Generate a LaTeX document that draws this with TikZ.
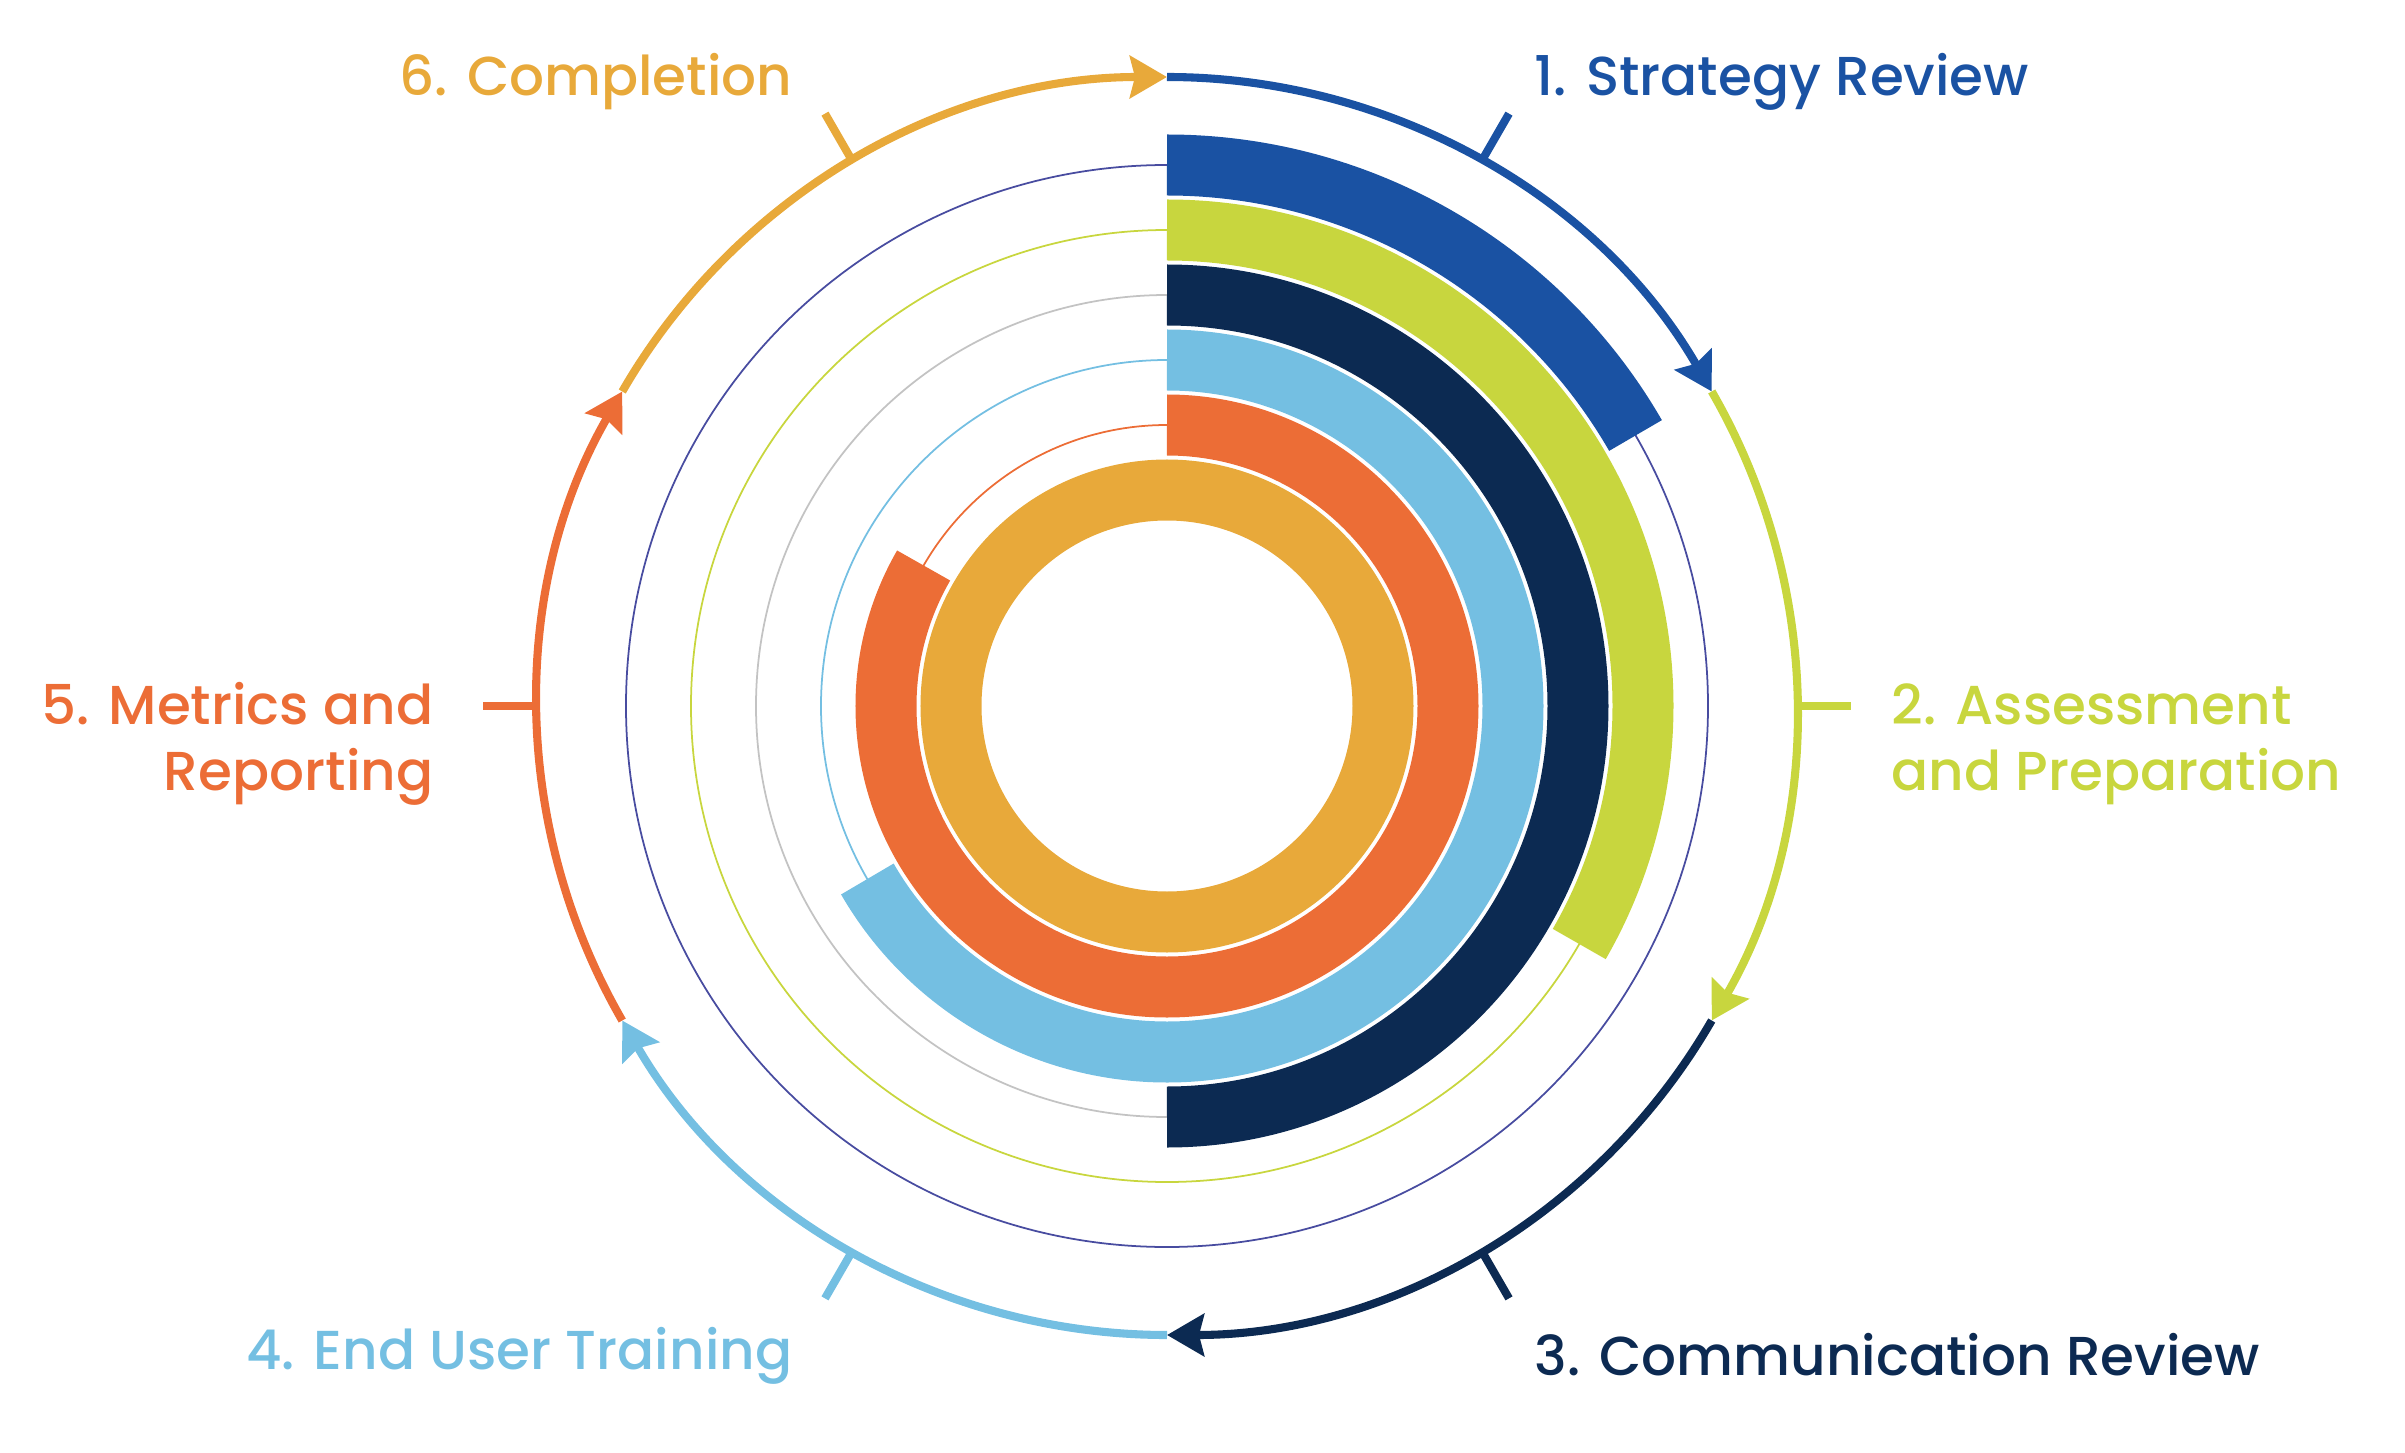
\documentclass[tikz,border=0pt]{standalone}
\usepackage{fontspec}
\setmainfont{Poppins}[UprightFont=* Medium]
\usetikzlibrary{arrows.meta}
\definecolor{stratBlue}{RGB}{26,82,163}
\definecolor{assessGreen}{RGB}{200,214,62}
\definecolor{commNavy}{RGB}{12,42,82}
\definecolor{trainBlue}{RGB}{116,191,226}
\definecolor{metricOrange}{RGB}{236,109,54}
\definecolor{complYellow}{RGB}{232,169,58}
\definecolor{guideIndigo}{RGB}{72,76,160}
\definecolor{guideGray}{RGB}{195,195,195}

\begin{document}
\begin{tikzpicture}[
    ring/.style={line width=2.3pt, -{Stealth[length=0.37cm, width=0.42cm, inset=0.05cm]}},
    notch/.style={line width=2.3pt},
    band/.style={line width=0.61cm},
    guide/.style={line width=0.5pt},
    steplabel/.style={font=\fontsize{15.6}{18.8}\selectfont, inner sep=0pt}
]
  \useasboundingbox (-11.67,-7.46) rectangle (12.38,7.06);
  \coordinate (c) at (0,0);
  \coordinate (s1) at (90:6.29);
  \coordinate (s2) at (30:6.29);
  \coordinate (s3) at (-30:6.29);
  \coordinate (s4) at (-90:6.29);
  \coordinate (s5) at (-150:6.29);
  \coordinate (s6) at (150:6.29);

  \draw[guide, guideIndigo] (c) circle[radius=5.41];
  \draw[guide, assessGreen] (c) circle[radius=4.76];
  \draw[guide, guideGray] (c) circle[radius=4.11];
  \draw[guide, trainBlue] (c) circle[radius=3.46];
  \draw[guide, metricOrange] (c) circle[radius=2.81];

  \draw[band, stratBlue] (90:5.41) arc[start angle=90, end angle=30, radius=5.41];
  \draw[band, assessGreen] (90:4.76) arc[start angle=90, end angle=-30, radius=4.76];
  \draw[band, commNavy] (90:4.11) arc[start angle=90, end angle=-90, radius=4.11];
  \draw[band, trainBlue] (90:3.46) arc[start angle=90, end angle=-150, radius=3.46];
  \draw[band, metricOrange] (90:2.81) arc[start angle=90, end angle=-210, radius=2.81];
  \draw[band, complYellow] (c) circle[radius=2.16];

  \draw[ring, stratBlue] (s1) arc[start angle=90, end angle=30, radius=6.29];
  \draw[ring, assessGreen] (s2) arc[start angle=30, end angle=-30, radius=6.29];
  \draw[ring, commNavy] (s3) arc[start angle=-30, end angle=-90, radius=6.29];
  \draw[ring, trainBlue] (s4) arc[start angle=-90, end angle=-150, radius=6.29];
  \draw[ring, metricOrange] (s5) arc[start angle=210, end angle=150, radius=6.29];
  \draw[ring, complYellow] (s6) arc[start angle=150, end angle=90, radius=6.29];

  \draw[notch, stratBlue] (60:6.29) -- (60:6.84);
  \draw[notch, assessGreen] (0:6.29) -- (0:6.84);
  \draw[notch, commNavy] (-60:6.29) -- (-60:6.84);
  \draw[notch, trainBlue] (-120:6.29) -- (-120:6.84);
  \draw[notch, metricOrange] (180:6.29) -- (180:6.84);
  \draw[notch, complYellow] (120:6.29) -- (120:6.84);

  \node[steplabel, text=stratBlue, anchor=base west] (strategy) at (3.67,6.10) {1. Strategy Review};
  \node[steplabel, text=assessGreen, anchor=west, align=left] (assess) at (7.24,-0.38) {2. Assessment\\and Preparation};
  \node[steplabel, text=commNavy, anchor=base west] (comm) at (3.67,-6.69) {3. Communication Review};
  \node[steplabel, text=trainBlue, anchor=base east] (training) at (-3.74,-6.63) {4. End User Training};
  \node[steplabel, text=metricOrange, anchor=east, align=right] (metrics) at (-7.33,-0.38) {5. Metrics and\\Reporting};
  \node[steplabel, text=complYellow, anchor=base east] (completion) at (-3.74,6.10) {6. Completion};
\end{tikzpicture}
\end{document}
